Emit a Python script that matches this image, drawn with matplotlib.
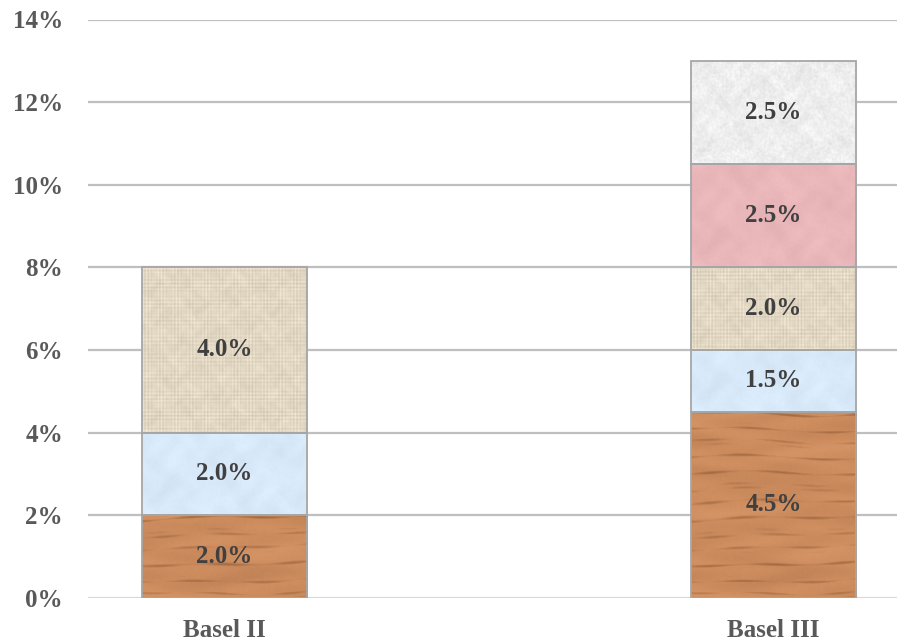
import numpy as np
import matplotlib
matplotlib.use("Agg")
from matplotlib import pyplot as plt

categories = ["Basel II", "Basel III"]
segment_names = ["Common equity", "Additional Tier 1", "Tier 2",
                 "Conservation buffer", "Countercyclical buffer"]
basel2 = [2.0, 2.0, 4.0, 0.0, 0.0]
basel3 = [4.5, 1.5, 2.0, 2.5, 2.5]
yticks = [0, 2, 4, 6, 8, 10, 12, 14]

textures = ["wood", "blue", "canvas", "pink", "granite"]
base_colors = {
    "wood": (204, 140, 94),
    "blue": (216, 233, 250),
    "canvas": (226, 215, 194),
    "pink": (233, 182, 186),
    "granite": (238, 238, 238),
}


def smooth(xx, yy, k):
    # sum of sines, deterministic pseudo-noise
    v = (np.sin(xx * 0.11 * k + yy * 0.07 * k + 1.3)
         + np.sin(xx * 0.043 * k - yy * 0.131 * k + 0.4)
         + np.sin(xx * 0.27 * k + np.sin(yy * 0.19 * k) * 2.0)
         + np.sin(yy * 0.23 * k + np.sin(xx * 0.17 * k) * 2.0))
    return v / 4.0


def grain(xx, yy):
    # hash noise, blurred a little
    n = np.sin(xx * 12.9898 + yy * 78.233) * 43758.5453
    n = n - np.floor(n)
    b = (n + np.roll(n, 1, 0) + np.roll(n, -1, 0) + np.roll(n, 1, 1) + np.roll(n, -1, 1)) / 5
    return (b - 0.5) * 2


def make_texture(kind, w, h):
    yy, xx = np.mgrid[0:h, 0:w].astype(float)
    base = np.array(base_colors[kind], dtype=float)
    img = np.ones((h, w, 3)) * base
    if kind == "wood":
        wave = yy * 0.42 + 0.9 * np.sin(xx * 0.018 + yy * 0.03) + 0.5 * np.sin(xx * 0.047 + 2.0)
        s = np.sin(wave) + 0.6 * np.sin(wave * 2.7 + 1.0) + 0.4 * np.sin(xx * 0.09 + yy * 0.2)
        dark = np.clip(s - 0.9, 0, None)
        shade = -dark * 35 + smooth(xx * 0.4, yy * 2, 0.5) * 10 + grain(xx, yy) * 3
        img += shade[..., None] * np.array([1.0, 0.85, 0.7])
    elif kind == "canvas":
        vx = np.sin(xx * 1.9) * np.sin(xx * 0.21 + 0.7)
        hy = np.sin(yy * 1.7) * np.sin(yy * 0.17 + 1.9)
        shade = (vx + hy) * 9 + smooth(xx, yy, 1.5) * 7 + grain(xx, yy) * 5
        img += shade[..., None]
    elif kind == "granite":
        shade = grain(xx, yy) * 14 + smooth(xx, yy, 1.2) * 8
        img += shade[..., None]
    else:
        shade = smooth(xx, yy, 0.8) * 6 + grain(xx, yy) * 3
        img += shade[..., None]
    return np.clip(img, 0, 255) / 255.0


fig = plt.figure(figsize=(8.97, 6.42), dpi=100)
ax = fig.add_axes([88 / 897, 44.3 / 642, (897 - 88) / 897, (597.7 - 19.5) / 642])

for y in yticks:
    ax.axhline(y, color="#D9D9D9" if y == 0 else "#BFBFBF", lw=1.6, zorder=0)

x = np.arange(len(categories))
width = 0.302
px_per_unit = (597.7 - 19.5) / 14

for xi, vals in zip(x, [basel2, basel3]):
    bottom = 0.0
    for val, kind in zip(vals, textures):
        if val <= 0:
            continue
        bar = ax.bar(xi, val, width, bottom=bottom, color=np.array(base_colors[kind]) / 255,
                     edgecolor="none", zorder=2)[0]
        img = make_texture(kind, 166, max(int(val * px_per_unit), 2))
        im = ax.imshow(img, extent=(xi - width / 2, xi + width / 2, bottom, bottom + val),
                       aspect="auto", origin="lower", zorder=3, interpolation="bilinear")
        im.set_clip_path(bar)
        ax.bar(xi, val, width, bottom=bottom, facecolor="none",
               edgecolor="#A6A6A6", linewidth=1.3, zorder=4)
        ax.text(xi, bottom + val / 2, f"{val:.1f}%", ha="center", va="center",
                fontsize=18, fontweight="bold", family="Liberation Serif",
                color="#404040", zorder=5)
        bottom += val

ax.set_xlim(-0.2486, 1.225)
ax.set_ylim(0, 14)
ax.set_yticks(yticks)
ax.set_yticklabels([f"{t}%" for t in yticks])
ax.set_xticks(x)
ax.set_xticklabels(categories)
for lab in ax.get_xticklabels() + ax.get_yticklabels():
    lab.set_family("Liberation Serif")
    lab.set_fontweight("bold")
    lab.set_fontsize(18)
    lab.set_color("#595959")
ax.tick_params(axis="y", length=0, pad=18)
ax.tick_params(axis="x", length=0, pad=15)
for sp in ax.spines.values():
    sp.set_visible(False)

fig.savefig("out.png", dpi=100)
